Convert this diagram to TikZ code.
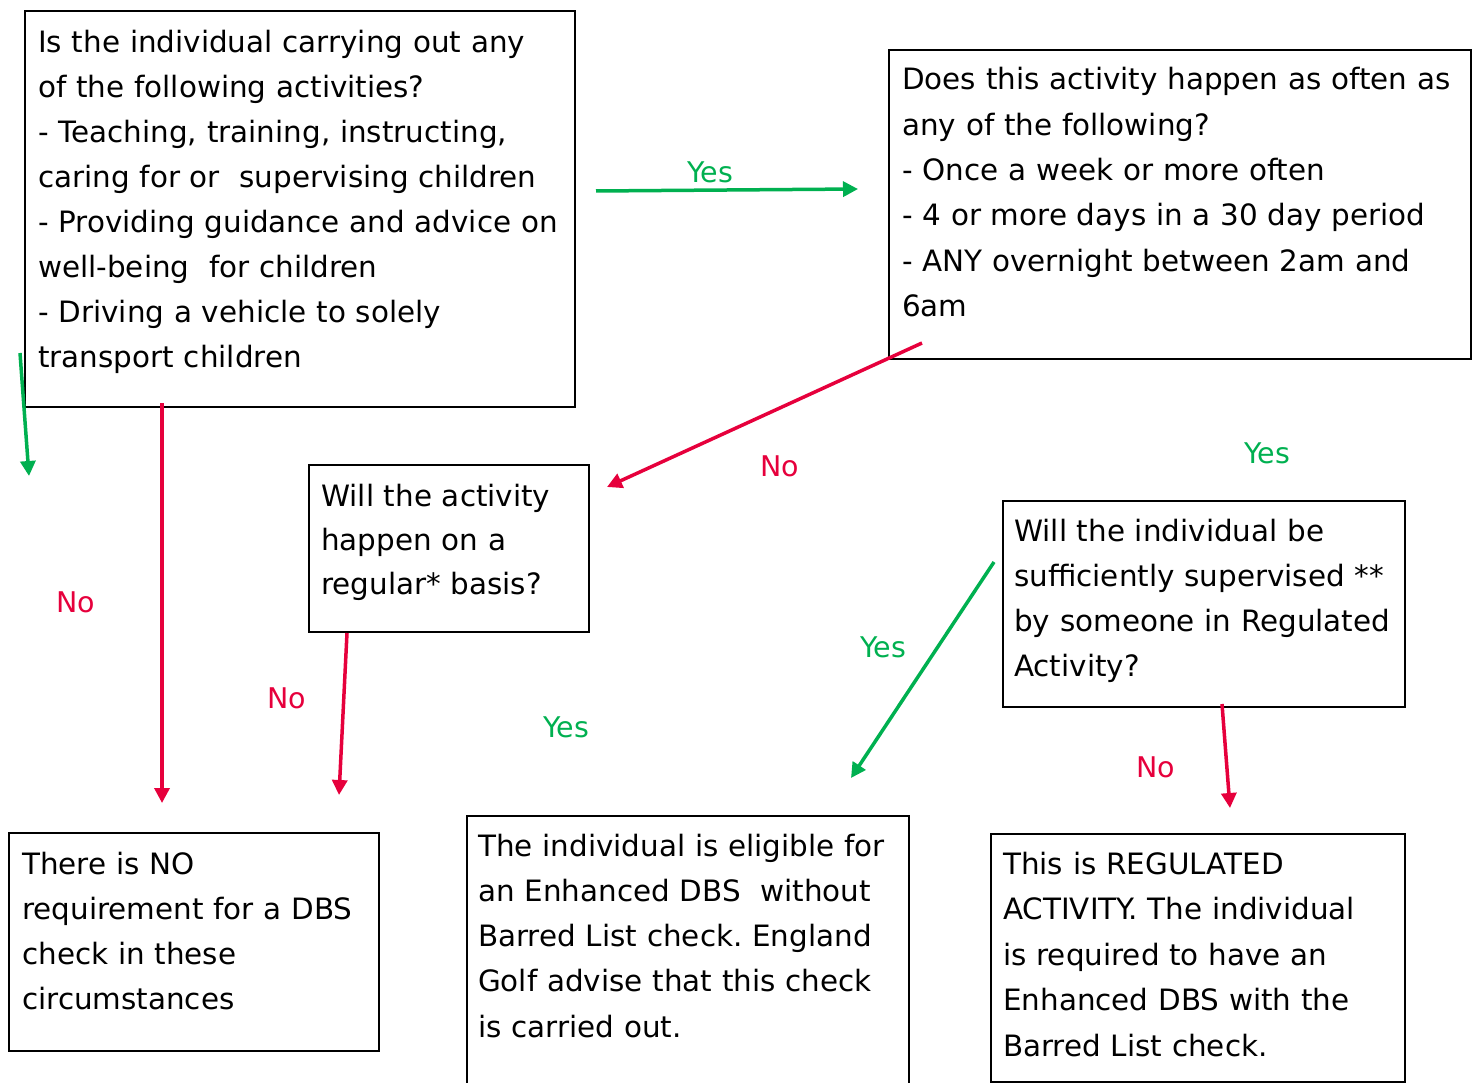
\documentclass[tikz,border=0pt]{standalone}
\usepackage{fontspec}
\setmainfont{DejaVu Sans}
\usetikzlibrary{arrows.meta}
\definecolor{yesgreen}{HTML}{00B050}
\definecolor{nored}{HTML}{E6003C}
\begin{document}
\begin{tikzpicture}[x=1pt,y=1pt,
  box/.style={draw=black,line width=1.7pt,inner sep=0pt,anchor=north west},
  txt/.style={anchor=base west,inner sep=0pt,text width=600pt,align=left,font=\fontsize{29.4}{45.3}\selectfont},
  lbl/.style={font=\fontsize{28.5}{34}\selectfont,inner sep=0pt},
  ylbl/.style={lbl,text=yesgreen},
  nlbl/.style={lbl,text=nored},
  yarr/.style={draw=yesgreen,line width=3.5pt,-{Triangle[length=15pt,width=15pt]}},
  narr/.style={draw=nored,line width=3.5pt,-{Triangle[length=15pt,width=15pt]}}]
\useasboundingbox (0,0) rectangle (1479,-1083);
% boxes
\node[box,minimum width=550pt,minimum height=396pt] (b1) at (24,-10) {};
\node[box,minimum width=582pt,minimum height=309pt] (b2) at (888,-49) {};
\node[box,minimum width=280pt,minimum height=167pt] (b3) at (308,-464) {};
\node[box,minimum width=402pt,minimum height=206pt] (b4) at (1002,-500) {};
\node[box,minimum width=370pt,minimum height=218pt] (b5) at (8,-832) {};
\node[box,minimum width=442pt,minimum height=280pt] (b6) at (466,-815) {};
\node[box,minimum width=414pt,minimum height=248pt] (b7) at (990,-833) {};
% texts
\node[txt,font=\fontsize{29.4}{45}\selectfont] (t1) at (38,-53) {Is the individual carrying out any\\of the following activities?\\- Teaching, training, instructing,\\caring for or\ \ supervising children\\- Providing guidance and advice on\\well-being\ \ for children\\- Driving a vehicle to solely\\transport children};
\node[txt] (t2) at (902,-90) {Does this activity happen as often as\\any of the following?\\- Once a week or more often\\- 4 or more days in a 30 day period\\- ANY overnight between 2am and\\6am};
\node[txt,font=\fontsize{29.4}{44}\selectfont] (t3) at (321,-506) {Will the activity\\happen on a\\regular* basis?};
\node[txt] (t4) at (1014,-541) {Will the individual be\\sufficiently supervised **\\by someone in Regulated\\Activity?};
\node[txt] (t5) at (22,-874) {There is NO\\requirement for a DBS\\check in these\\circumstances};
\node[txt] (t6) at (478,-856) {The individual is eligible for\\an Enhanced DBS\ \ without\\Barred List check.\ England\\Golf advise that this check\\is carried out.};
\node[txt,font=\fontsize{29.4}{45.5}\selectfont] (t7) at (1003,-874) {This is REGULATED\\ACTIVITY. The individual\\is required to have an\\Enhanced DBS with the\\Barred List check.};
% connector end points
\coordinate (a1s) at (596,-191); \coordinate (a1e) at (858,-189);
\coordinate (a2s) at (20,-353);  \coordinate (a2e) at (29,-476);
\coordinate (a3s) at (162,-403); \coordinate (a3e) at (162,-803);
\coordinate (a4s) at (922,-343); \coordinate (a4e) at (607,-487);
\coordinate (a5s) at (347,-633); \coordinate (a5e) at (339,-795);
\coordinate (a6s) at (994,-562); \coordinate (a6e) at (851,-778);
\coordinate (a7s) at (1222,-704); \coordinate (a7e) at (1230,-808);
% connectors
\draw[yarr] (a1s) -- (a1e);
\draw[yarr] (a2s) -- (a2e);
\draw[narr] (a3s) -- (a3e);
\draw[narr] (a4s) -- (a4e);
\draw[narr] (a5s) -- (a5e);
\draw[yarr] (a6s) -- (a6e);
\draw[narr] (a7s) -- (a7e);
% labels
\node[ylbl] (l1) at (710,-172) {Yes};
\node[nlbl] (l2) at (76,-602) {No};
\node[nlbl] (l3) at (780,-466) {No};
\node[ylbl] (l4) at (1267,-453) {Yes};
\node[nlbl] (l5) at (287,-698) {No};
\node[ylbl] (l6) at (566,-727) {Yes};
\node[ylbl] (l7) at (883,-647) {Yes};
\node[nlbl] (l8) at (1156,-767) {No};
\end{tikzpicture}
\end{document}
